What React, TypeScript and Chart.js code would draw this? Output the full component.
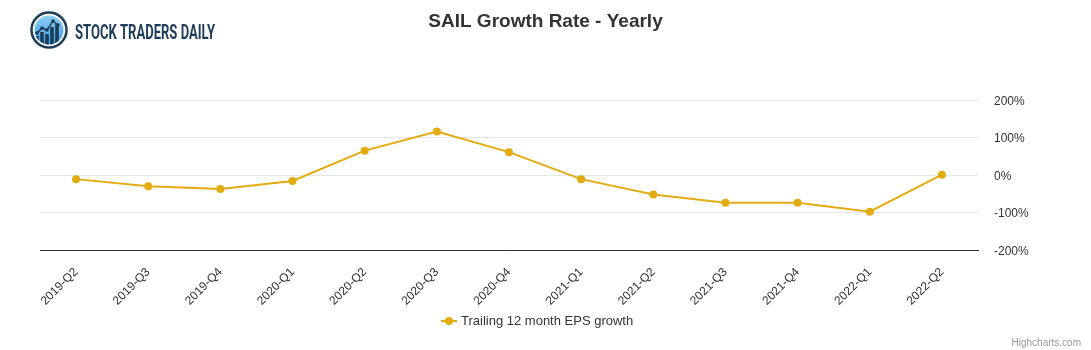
import React, { useEffect, useRef } from 'react';
import { Chart, registerables } from 'chart.js';

Chart.register(...registerables);

const categories = [
  '2019-Q2', '2019-Q3', '2019-Q4', '2020-Q1', '2020-Q2', '2020-Q3', '2020-Q4',
  '2021-Q1', '2021-Q2', '2021-Q3', '2021-Q4', '2022-Q1', '2022-Q2',
];
const epsGrowth = [-11, -30, -37, -16, 65, 116, 61, -11, -52, -74, -74, -98, 1];
const yTickValues = [-200, -100, 0, 100, 200];
const chartTitle = 'SAIL Growth Rate - Yearly';
const seriesName = 'Trailing 12 month EPS growth';
const brandName = 'STOCK TRADERS DAILY';
const creditText = 'Highcharts.com';

const FONT = '"Liberation Sans", Arial, Helvetica, sans-serif';
const LINE_COLOR = '#e4ab11';

const decorPlugin = {
  id: 'decor',
  afterDraw(chart: any) {
    const ctx: CanvasRenderingContext2D = chart.ctx;
    ctx.save();

    // Title
    ctx.font = `bold 19px ${FONT}`;
    ctx.fillStyle = '#333333';
    ctx.textAlign = 'center';
    ctx.textBaseline = 'middle';
    ctx.fillText(chartTitle, chart.width / 2, 22);

    // Legend
    const ly = 321;
    ctx.strokeStyle = LINE_COLOR;
    ctx.lineWidth = 2;
    ctx.beginPath();
    ctx.moveTo(441, ly);
    ctx.lineTo(457, ly);
    ctx.stroke();
    ctx.fillStyle = LINE_COLOR;
    ctx.beginPath();
    ctx.arc(449, ly, 4, 0, Math.PI * 2);
    ctx.fill();
    ctx.font = `13px ${FONT}`;
    ctx.fillStyle = '#333333';
    ctx.textAlign = 'left';
    ctx.fillText(seriesName, 461, ly);

    // Credits
    ctx.font = `10px ${FONT}`;
    ctx.fillStyle = '#999999';
    ctx.textAlign = 'right';
    ctx.fillText(creditText, 1081, 343);

    // Logo
    const cx = 49, cy = 30;
    ctx.fillStyle = '#ffffff';
    ctx.beginPath();
    ctx.arc(cx, cy, 18.5, 0, Math.PI * 2);
    ctx.fill();
    ctx.strokeStyle = '#1d3c58';
    ctx.lineWidth = 2.5;
    ctx.beginPath();
    ctx.arc(cx, cy, 17.5, 0, Math.PI * 2);
    ctx.stroke();
    const g = ctx.createLinearGradient(cx, cy - 15, cx, cy + 15);
    g.addColorStop(0, '#8fd0f5');
    g.addColorStop(1, '#3a9be0');
    ctx.fillStyle = g;
    ctx.beginPath();
    ctx.arc(cx, cy, 14.5, 0, Math.PI * 2);
    ctx.fill();
    ctx.save();
    ctx.beginPath();
    ctx.arc(cx, cy, 14.5, 0, Math.PI * 2);
    ctx.clip();
    ctx.fillStyle = '#1d3c58';
    const bars = [[37, 36], [42, 32], [47, 34], [52, 27], [57, 24]];
    bars.forEach(([bx, by]) => ctx.fillRect(bx - 1.8, by, 3.6, 50));
    ctx.restore();
    ctx.strokeStyle = '#1d3c58';
    ctx.lineWidth = 1.5;
    const pts = [[37, 33], [42, 28], [47, 30], [53, 21], [58, 25]];
    ctx.beginPath();
    pts.forEach(([px, py], i) => (i ? ctx.lineTo(px, py) : ctx.moveTo(px, py)));
    ctx.stroke();
    ctx.fillStyle = '#1d3c58';
    pts.forEach(([px, py]) => {
      ctx.beginPath();
      ctx.arc(px, py, 1.8, 0, Math.PI * 2);
      ctx.fill();
    });

    ctx.font = `bold 21px "Liberation Sans Narrow", "Roboto", ${FONT}`;
    ctx.fillStyle = '#1d3c58';
    ctx.textAlign = 'left';
    ctx.textBaseline = 'alphabetic';
    const w = ctx.measureText(brandName).width;
    ctx.save();
    ctx.translate(75, 39);
    ctx.scale(140 / w, 1);
    ctx.fillText(brandName, 0, 0);
    ctx.restore();

    ctx.restore();
  },
};

export default function App() {
  const canvasRef = useRef<HTMLCanvasElement | null>(null);

  useEffect(() => {
    if (!canvasRef.current) return;
    const chart = new Chart(canvasRef.current, {
      type: 'line',
      data: {
        labels: categories,
        datasets: [
          {
            label: seriesName,
            data: epsGrowth,
            borderColor: LINE_COLOR,
            backgroundColor: LINE_COLOR,
            pointBackgroundColor: LINE_COLOR,
            pointBorderColor: LINE_COLOR,
            pointBorderWidth: 0,
            pointRadius: 4,
            borderWidth: 2,
            tension: 0,
            fill: false,
            clip: false as any,
            yAxisID: 'y',
          },
        ],
      },
      options: {
        animation: false,
        responsive: false,
        maintainAspectRatio: false,
        layout: { padding: { top: 100, left: 0, right: 0, bottom: 0 } },
        plugins: {
          legend: { display: false },
          title: { display: false },
          tooltip: { enabled: false },
        },
        scales: {
          x: {
            type: 'category',
            offset: true,
            grid: { display: false, drawTicks: false },
            border: { display: true, color: '#333333', width: 1 },
            ticks: {
              color: '#333333',
              font: { family: FONT, size: 12 },
              minRotation: 45,
              maxRotation: 45,
              autoSkip: false,
              padding: 15,
            },
            afterFit: (s: any) => {
              s.height = 100;
            },
          },
          y: {
            position: 'right',
            min: -200,
            max: 200,
            afterBuildTicks: (s: any) => {
              s.ticks = yTickValues.map((v) => ({ value: v }));
            },
            grid: {
              color: (c: any) => (c.tick && c.tick.value === -200 ? 'rgba(0,0,0,0)' : '#e6e6e6'),
              drawTicks: false,
            },
            border: { display: false },
            ticks: {
              color: '#333333',
              font: { family: FONT, size: 12 },
              padding: 16,
              labelOffset: 1.5,
              callback: (v: any) => `${v}%`,
            },
            afterFit: (s: any) => {
              s.width = 113;
            },
          },
          yLeft: {
            type: 'linear',
            position: 'left',
            display: true,
            grid: { display: false, drawTicks: false },
            border: { display: false },
            ticks: { display: false },
            afterFit: (s: any) => {
              s.width = 40;
            },
          },
        },
      },
      plugins: [decorPlugin],
    });
    return () => chart.destroy();
  }, []);

  return (
    <div style={{ position: 'absolute', left: 0, top: 0, width: 1091, height: 350, background: '#ffffff' }}>
      <canvas ref={canvasRef} width={1091} height={350} style={{ display: 'block' }} />
    </div>
  );
}
